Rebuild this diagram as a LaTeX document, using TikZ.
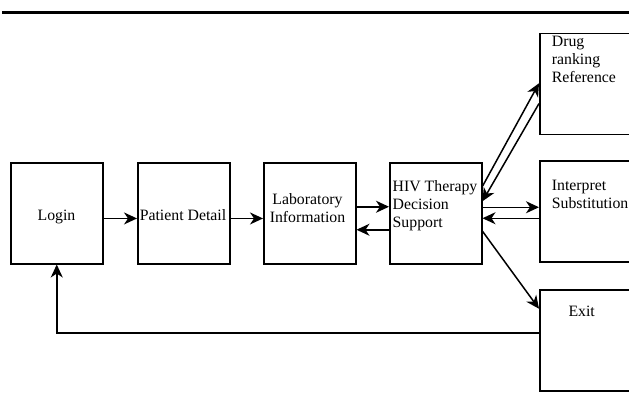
\documentclass[tikz,border=0pt]{standalone}
\usepackage{fontspec}
\setmainfont{Liberation Serif}
\usetikzlibrary{arrows.meta}

\begin{document}
\begin{tikzpicture}[x=1pt, y=-1pt,
    box/.style={draw, line width=1.5pt, minimum width=92pt, minimum height=101pt, inner sep=0pt, anchor=north west},
    txt/.style={font=\fontsize{15.8}{18}\selectfont, inner sep=0pt, align=left, anchor=base west},
    flow/.style={line width=1.5pt, -{Stealth[length=13pt, width=12pt, inset=4pt]}}]
    \useasboundingbox (0,0) rectangle (629,401);
    \draw [line width=3pt] (2,13) -- (629,13);
    % boxes
    \node[box] (login) at (10,162) {};
    \node[box] (patient) at (137,162) {};
    \node[box] (lab) at (263,162) {};
    \node[box] (hiv) at (389,162) {};
    \node[box] (drug) at (539,33) {};
    \node[box] (interp) at (539,160) {};
    \node[box] (exit) at (539,289) {};
    % texts (multi-line ones sit on the baseline of their last line)
    \node[txt, anchor=base] (logintxt) at (56.5,220) {Login};
    \node[txt, anchor=base] (patienttxt) at (183,220) {Patient Detail};
    \node[txt, anchor=base, align=center] (labtxt) at (307.5,222.5) {Laboratory\\Information};
    \node[txt] (hivtxt) at (392.5,227.5) {HIV Therapy\\Decision\\Support};
    \node[txt] (drugtxt) at (551.7,83) {Drug\\ranking\\Reference};
    \node[txt] (interptxt) at (551.7,208.3) {Interpret\\Substitution};
    \node[txt] (exittxt) at (568.3,316.7) {Exit};
    % arrows
    \draw [flow] ([yshift=-5.2pt]login.east) -- ([yshift=-5.2pt]login.east -| patient.west);
    \draw [flow] ([yshift=-5.2pt]patient.east) -- ([yshift=-5.2pt]patient.east -| lab.west);
    \draw [flow] ([yshift=6.5pt]lab.east) -- ([yshift=6.5pt]lab.east -| hiv.west);
    \draw [flow] ([yshift=-16.5pt]hiv.west) -- ([yshift=-16.5pt]hiv.west -| lab.east);
    \draw [flow] ([yshift=27pt]hiv.east) -- ([yshift=1pt]drug.west);
    \draw [flow] ([yshift=-19.3pt]drug.west) -- ([yshift=12pt]hiv.east);
    \draw [flow] ([yshift=6pt]hiv.east) -- ([yshift=6pt]hiv.east -| interp.west);
    \draw [flow] ([yshift=-5pt]hiv.east -| interp.west) -- ([yshift=-5pt]hiv.east);
    \draw [flow] ([yshift=-18pt]hiv.east) -- ([yshift=31.5pt]exit.west);
    \draw [flow] ([yshift=7.5pt]exit.west) -| (login.south);
\end{tikzpicture}
\end{document}
